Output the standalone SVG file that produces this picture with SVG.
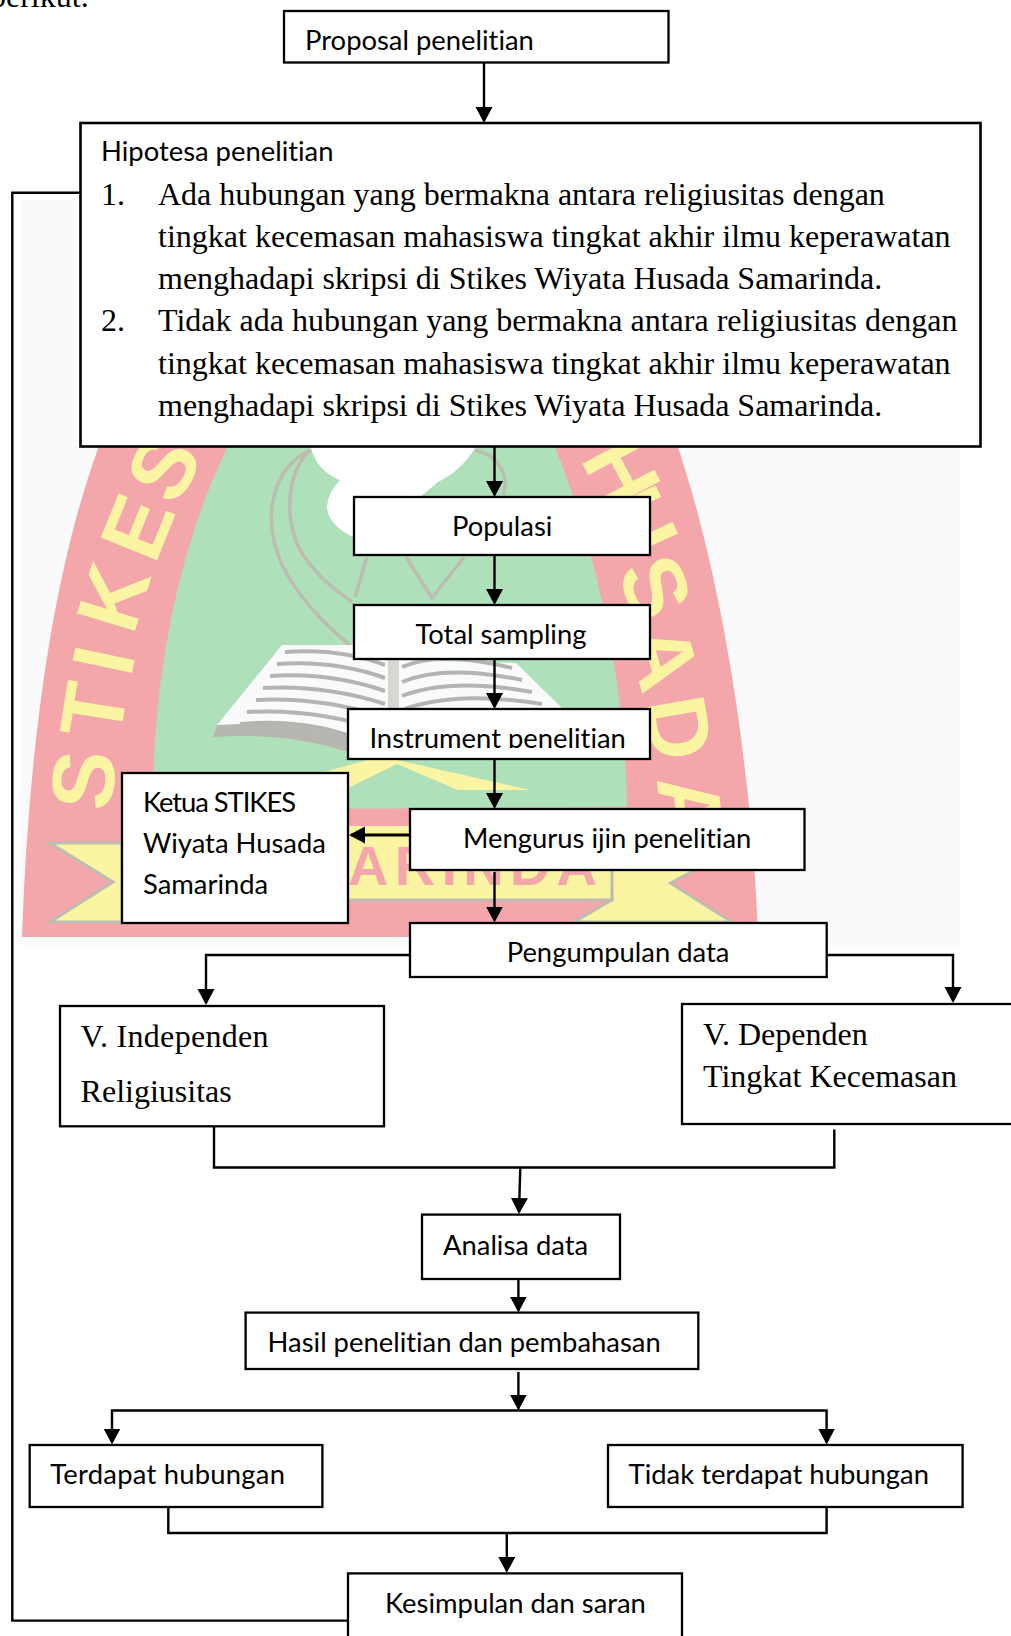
<svg xmlns="http://www.w3.org/2000/svg" width="1011" height="1636" viewBox="0 0 1011 1636">
<style>
.box{fill:#fff;stroke:#000;stroke-width:2.3}
.s{font-family:"Lato","Liberation Sans",sans-serif;font-size:27.4px;font-variant-ligatures:none;fill:#000}
.t{font-family:"Liberation Serif","Times New Roman",serif;font-size:32px;fill:#000}
.c{fill:none;stroke:#000;stroke-width:2.4}
.a{marker-end:url(#arrow)}
.wm{font-family:"Liberation Sans",sans-serif;font-weight:700;font-size:88px;fill:#fbf5a3;text-anchor:middle}
.st{fill:none;stroke:#bcbcb0;stroke-width:3.5}
.ln{fill:none;stroke:#b4b4b0;stroke-width:4}
</style>
<defs>
<marker id="arrow" markerUnits="userSpaceOnUse" markerWidth="18" markerHeight="18" refX="14" refY="8.500" orient="auto"><path d="M0 0L16 8.500L0 17Z" fill="#000"/></marker>
<clipPath id="clipInstr"><rect x="350" y="715" width="298" height="33"/></clipPath>
</defs>
<rect width="1011" height="1636" fill="#fff"/>
<text class="t" x="-10" y="6.500">berikut.</text>
<g id="watermark">
<rect x="20" y="200" width="940" height="745" fill="#fafafa"/>
<path d="M22 937C28 760 50 570 105 430L672 430C722 570 752 770 758 937Z" fill="#f3a7aa"/>
<path d="M153 810C152 680 178 540 236 430L548 430C595 540 625 680 627 807Z" fill="#aee0b9"/>
<path d="M300 430L490 430L475 448Q462 470 438 482L420 497L420 545L353 537Q328 525 327 507Q328 492 340 480Q318 472 311 448Z" fill="#fff"/>
<path class="st" d="M310 450C270 470 262 520 282 565C300 600 325 625 350 645"/>
<path class="st" d="M310 450C285 475 285 520 300 550C315 575 335 590 352 602"/>
<path class="st" d="M475 450C498 455 510 475 503 495"/>
<path class="st" d="M367 557L355 597M406 557L432 598L464 557"/>
<path d="M312 735L345 752L397 760L530 790L458 790L397 764L350 787L320 773L397 752L345 742Z" fill="#fbf5a3"/>
<path d="M213 737L217 725L300 723L347 737L400 750L347 752Q290 732 213 737Z" fill="#b8b6b0"/>
<path d="M282 645L353 645L393 660L393 760L347 737Q300 720 217 725Z" fill="#fafafa"/>
<path d="M393 660L516 663L561 707L570 760L393 760Z" fill="#fafafa"/>
<path class="ln" d="M285 652Q340 648 385 665M277 664Q335 660 385 678M270 676Q330 672 385 691M263 688Q325 685 385 704M256 700Q320 697 385 717M247 712Q315 708 385 731M240 724Q310 718 365 742"/>
<path class="ln" d="M402 667Q440 650 512 668M402 682Q445 664 522 680M402 696Q450 677 532 692M402 710Q455 690 542 704"/>
<path d="M388 660L399 660L399 760L388 760Z" fill="#d6d6d2"/>
<path d="M122 843L50 843L113 882L50 922L122 922Z" fill="#fbf5a3" stroke="#bcbcb0" stroke-width="3"/>
<path d="M610 843L745 843L670.600 883L732 922L574 922L612 900Z" fill="#fbf5a3" stroke="#bcbcb0" stroke-width="3"/>
<path d="M122 826L612 826L612 900L122 900Z" fill="#fbf5a3"/>
<path d="M122 900L612 900L612 843" fill="none" stroke="#bcbcb0" stroke-width="3"/>
<text x="348" y="885" textLength="249" style="font-family:'Liberation Sans',sans-serif;font-weight:700;font-size:56px;fill:#f3a7aa">ARINDA</text>
<text class="wm" transform="translate(83 780) rotate(-85)" y="31">S</text>
<text class="wm" transform="translate(93 710) rotate(-81)" y="31">T</text>
<text class="wm" transform="translate(103 660) rotate(-78)" y="31">I</text>
<text class="wm" transform="translate(113 597) rotate(-73)" y="31">K</text>
<text class="wm" transform="translate(137 527) rotate(-68)" y="31">E</text>
<text class="wm" transform="translate(163 467) rotate(-60)" y="31">S</text>
<text class="wm" transform="translate(622 472) rotate(62)" y="31">H</text>
<text class="wm" transform="translate(640 522) rotate(65)" y="31">U</text>
<text class="wm" transform="translate(656 587) rotate(68)" y="31">S</text>
<text class="wm" transform="translate(664 657) rotate(74)" y="31">A</text>
<text class="wm" transform="translate(679 728) rotate(80)" y="31">D</text>
<text class="wm" transform="translate(691 807) rotate(84)" y="31">A</text>
</g>
<g id="connectors">
<path class="c a" d="M484 62V121"/>
<path class="c a" d="M494.500 446V495"/>
<path class="c a" d="M494.500 555V603"/>
<path class="c a" d="M494.500 659V707"/>
<path class="c a" d="M494.500 759V807"/>
<path class="c a" style="stroke-width:3" d="M410 835H351"/>
<path class="c a" d="M494.500 872V920.500"/>
<path class="c a" d="M410 955H206V1003"/>
<path class="c a" d="M827 955H953V1001"/>
<path class="c" d="M214 1126V1167.500H834.300V1129.500"/>
<path class="c a" d="M520.300 1167.500L519 1212"/>
<path class="c a" d="M518.400 1279V1310.500"/>
<path class="c a" d="M518.400 1372V1408.500"/>
<path class="c a" d="M518.400 1410.500H112V1442.500"/>
<path class="c a" d="M518.400 1410.500H826.600V1442.500"/>
<path class="c" d="M168.300 1507V1533H826.600V1507"/>
<path class="c a" d="M506.800 1533V1571"/>
<path class="c" d="M348 1620.600H12.300V192.700H80.500"/>
</g>
<g id="node-proposal"><rect class="box" x="284" y="11" width="384.500" height="51.500"/><text class="s" x="305" y="50">Proposal penelitian</text></g>
<g id="node-hipotesa"><rect class="box" style="stroke-width:2.6" x="80.500" y="123" width="900" height="323.500"/>
<text class="s" x="101" y="161">Hipotesa penelitian</text>
<text class="t" x="101" y="205">1.</text><text class="t" x="158" y="205">Ada hubungan yang bermakna antara religiusitas dengan</text>
<text class="t" x="158" y="247">tingkat kecemasan mahasiswa tingkat akhir ilmu keperawatan</text>
<text class="t" x="158" y="289">menghadapi skripsi di Stikes Wiyata Husada Samarinda.</text>
<text class="t" x="101" y="331">2.</text><text class="t" x="158" y="331">Tidak ada hubungan yang bermakna antara religiusitas dengan</text>
<text class="t" x="158" y="374">tingkat kecemasan mahasiswa tingkat akhir ilmu keperawatan</text>
<text class="t" x="158" y="416">menghadapi skripsi di Stikes Wiyata Husada Samarinda.</text></g>
<g id="node-populasi"><rect class="box" x="354" y="497" width="296" height="58"/><text class="s" x="452" y="536">Populasi</text></g>
<g id="node-sampling"><rect class="box" x="354" y="605" width="296" height="54"/><text class="s" x="415.500" y="644">Total sampling</text></g>
<g id="node-instrument"><rect class="box" x="348" y="709" width="302" height="50"/><text class="s" x="369.400" y="748" clip-path="url(#clipInstr)">Instrument penelitian</text></g>
<g id="node-ketua"><rect class="box" x="122" y="773" width="226" height="150"/><text class="s" x="143" y="812" textLength="153">Ketua STIKES</text><text class="s" x="143" y="853">Wiyata Husada</text><text class="s" x="143" y="894">Samarinda</text></g>
<g id="node-ijin"><rect class="box" x="410" y="809" width="394.500" height="61"/><text class="s" x="463" y="848">Mengurus ijin penelitian</text></g>
<g id="node-pengumpulan"><rect class="box" x="410" y="923" width="416.700" height="54"/><text class="s" x="506.700" y="962">Pengumpulan data</text></g>
<g id="node-independen"><rect class="box" x="60" y="1006" width="324" height="120.300"/><text class="t" x="80.600" y="1047" textLength="188">V. Independen</text><text class="t" x="80.600" y="1102">Religiusitas</text></g>
<g id="node-dependen"><rect class="box" x="682" y="1004" width="340" height="120"/><text class="t" x="703" y="1045">V. Dependen</text><text class="t" x="703" y="1087">Tingkat Kecemasan</text></g>
<g id="node-analisa"><rect class="box" x="422" y="1214.600" width="198" height="64.400"/><text class="s" x="443" y="1254.500">Analisa data</text></g>
<g id="node-hasil"><rect class="box" x="245.600" y="1312.600" width="452.700" height="56.400"/><text class="s" x="267.600" y="1352">Hasil penelitian dan pembahasan</text></g>
<g id="node-terdapat"><rect class="box" x="29.700" y="1445" width="292.700" height="62"/><text class="s" x="50.300" y="1484" textLength="234.700">Terdapat hubungan</text></g>
<g id="node-tidak"><rect class="box" x="608" y="1445" width="354.600" height="62"/><text class="s" x="628.600" y="1484">Tidak terdapat hubungan</text></g>
<g id="node-kesimpulan"><rect class="box" x="348" y="1573.400" width="334" height="80"/><text class="s" x="385" y="1612.500">Kesimpulan dan saran</text></g>
</svg>
